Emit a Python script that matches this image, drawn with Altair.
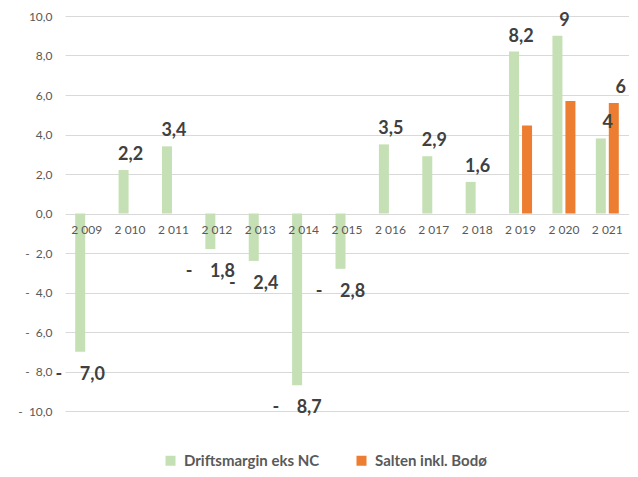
import altair as alt
import pandas as pd

NB = "\u00a0"

years = ["2009", "2010", "2011", "2012", "2013", "2014", "2015",
         "2016", "2017", "2018", "2019", "2020", "2021"]
year_labels = ["2 009", "2 010", "2 011", "2 012", "2 013", "2 014", "2 015",
               "2 016", "2 017", "2 018", "2 019", "2 020", "2 021"]

series_names = ["Driftsmargin eks NC", "Salten inkl. Bodø"]

drift = [-7.0, 2.2, 3.4, -1.8, -2.4, -8.7, -2.8, 3.5, 2.9, 1.6, 8.2, 9.0, 3.8]
drift_labels = ["-" + NB * 4 + "7,0", "2,2", "3,4", "-" + NB * 4 + "1,8",
                "-" + NB * 4 + "2,4", "-" + NB * 4 + "8,7", "-" + NB * 4 + "2,8",
                "3,5", "2,9", "1,6", "8,2", "9", "4"]

salten = [None, None, None, None, None, None, None, None, None, None, 4.45, 5.7, 5.6]
salten_labels = ["", "", "", "", "", "", "", "", "", "", "", "", "6"]

colors = ["#C5E0B4", "#ED7D31"]

rows = []
for y, v, l in zip(years, drift, drift_labels):
    rows.append({"year": y, "series": series_names[0], "value": v, "label": l})
for y, v, l in zip(years, salten, salten_labels):
    if v is not None:
        rows.append({"year": y, "series": series_names[1], "value": v, "label": l})
df = pd.DataFrame(rows)
ydf = pd.DataFrame({"year": years, "ylabel": year_labels})

FONT = "Lato"

x_enc = alt.X("year:N", sort=years,
              scale=alt.Scale(paddingInner=0.47, paddingOuter=0.235), axis=None)
xoff_enc = alt.XOffset("series:N", sort=series_names,
                       scale=alt.Scale(domain=series_names, paddingInner=0.23, paddingOuter=0))
y_axis = alt.Axis(values=list(range(-10, 11, 2)),
                  labelExpr="(datum.value < 0 ? '-" + NB * 2 + "' : '') + replace(format(abs(datum.value), '.1f'), '.', ',')",
                  domain=False, ticks=False, gridColor="#D9D9D9",
                  labelColor="#595959", labelFontSize=12, labelFont=FONT,
                  labelPadding=13, labelOverlap=False, title=None)
y_scale = alt.Scale(domain=[-10, 10], nice=False)


def y_of(field):
    return alt.Y(field, scale=y_scale, axis=y_axis)


base = alt.Chart(df)

bars = base.mark_bar().encode(
    x=x_enc,
    xOffset=xoff_enc,
    y=y_of("value:Q"),
    color=alt.Color("series:N",
                    scale=alt.Scale(domain=series_names, range=colors),
                    legend=alt.Legend(orient="none", legendX=98, legendY=437,
                                      direction="horizontal", title=None,
                                      symbolType="square", symbolSize=100,
                                      symbolStrokeWidth=0, columnPadding=34,
                                      labelOffset=6, labelFont=FONT,
                                      labelFontSize=15, labelFontWeight="bold",
                                      labelColor="#595959")),
)

pos_labels = base.transform_filter("datum.value > 0 && datum.label != ''").mark_text(
    dy=-15, dx=7, font=FONT, fontSize=18, fontWeight="bold", color="#404040",
    baseline="middle").encode(
    x=x_enc, xOffset=xoff_enc, y=y_of("value:Q"), text="label:N")

neg_labels = base.transform_filter("datum.value < 0 && datum.label != ''").mark_text(
    dy=23, dx=0, font=FONT, fontSize=18, fontWeight="bold", color="#404040",
    baseline="middle").encode(
    x=x_enc, xOffset=xoff_enc, y=y_of("value:Q"), text="label:N")

year_text = alt.Chart(ydf).transform_calculate(zero="0").mark_text(
    dy=16, font=FONT, fontSize=12, color="#595959", baseline="middle").encode(
    x=alt.X("year:N", sort=years), y=y_of("zero:Q"), text="ylabel:N")

chart = alt.layer(bars, pos_labels, neg_labels, year_text).properties(
    width=564, height=395,
    autosize=alt.AutoSizeParams(type="none"),
    padding={"left": 57, "top": 8, "right": 0, "bottom": 58},
).configure_view(stroke=None)

chart.save("out.html", embed_options={"renderer": "svg", "actions": False})
